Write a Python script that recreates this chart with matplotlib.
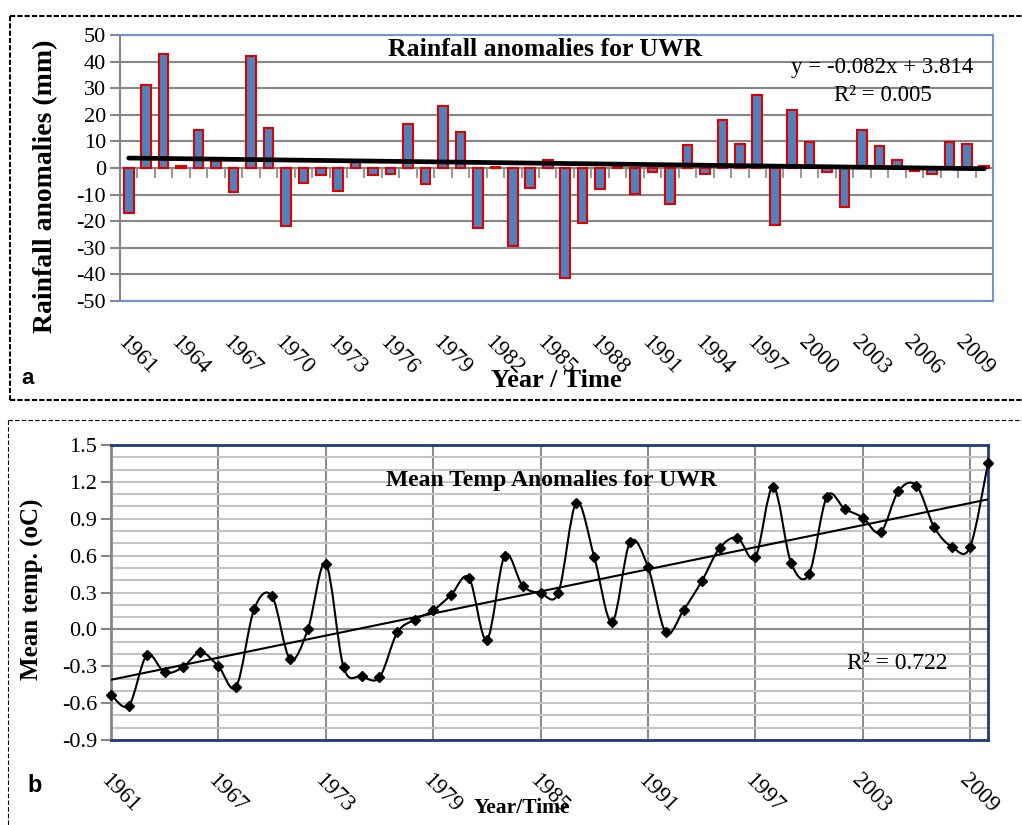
import numpy as np
import matplotlib
matplotlib.use('Agg')
from matplotlib import pyplot as plt
from matplotlib.path import Path
from matplotlib.patches import PathPatch
from matplotlib.lines import Line2D
from matplotlib.ticker import FormatStrFormatter

plt.rcParams['font.family'] = 'Liberation Serif'
plt.rcParams['axes.unicode_minus'] = False

years = list(range(1961, 2011))

# rainfall anomalies (mm), one bar per year
rain_anomaly = [-17.1, 31.2, 42.9, 0.6, 14.1, 2.5, -9.0, 42.1, 14.9, -21.9,
                -5.6, -2.6, -8.8, 2.5, -2.6, -2.2, 16.6, -5.9, 23.4, 13.4,
                -22.5, 0.5, -29.4, -7.5, 2.9, -41.2, -20.6, -7.9, 0.8, -9.8,
                -1.5, -13.4, 8.8, -2.1, 18.1, 9.0, 27.5, -21.4, 21.9, 9.6,
                -1.6, -14.8, 14.4, 8.4, 2.9, -1.2, -2.2, 9.9, 8.9, 0.6]
rain_slope = -0.082
rain_intercept = 3.814
rain_r2 = 0.005

# mean temperature anomalies (oC)
temp_anomaly = [-0.53, -0.62, -0.21, -0.35, -0.31, -0.185, -0.30, -0.465, 0.165, 0.27,
                -0.24, 0.0, 0.535, -0.31, -0.38, -0.39, -0.025, 0.08, 0.155, 0.28,
                0.42, -0.085, 0.60, 0.355, 0.295, 0.30, 1.03, 0.59, 0.06, 0.71,
                0.51, -0.025, 0.16, 0.39, 0.66, 0.745, 0.585, 1.16, 0.54, 0.45,
                1.08, 0.98, 0.91, 0.79, 1.125, 1.17, 0.83, 0.67, 0.67, 1.35]
temp_r2 = 0.722

rain_tick_years = years[::3]
temp_tick_years = years[::6]


def smooth_path(x, y):
    # excel style smoothed line (catmull-rom as cubic bezier)
    pts = np.column_stack([x, y]).astype(float)
    padded = np.vstack([pts[0], pts, pts[-1]])
    verts = [pts[0]]
    codes = [Path.MOVETO]
    for i in range(len(pts) - 1):
        p0, p1, p2, p3 = padded[i], padded[i + 1], padded[i + 2], padded[i + 3]
        verts += [p1 + (p2 - p0) / 6, p2 - (p3 - p1) / 6, p2]
        codes += [Path.CURVE4] * 3
    return Path(verts, codes)


fig = plt.figure(figsize=(10.22, 8.25), dpi=100)

# ---------------- panel a : rainfall ----------------
ax1 = fig.add_axes([0.1174, 0.6352, 0.8542, 0.3224])
pos = np.arange(1, len(years) + 1)
ax1.bar(pos, rain_anomaly, width=0.55, color='#4F81BD', edgecolor='#E00000',
        linewidth=1.5, zorder=3)
ax1.plot(pos, rain_slope * pos + rain_intercept, color='black', lw=3.4,
         solid_capstyle='round', zorder=4)
ax1.set_xlim(0.5, len(years) + 0.5)
ax1.set_ylim(-50, 50)
ax1.set_yticks(range(-50, 51, 10))
ax1.yaxis.grid(True, color='#868686', lw=1.5)
ax1.set_axisbelow(True)
ax1.tick_params(axis='y', length=7, width=1.5, color='#868686', labelsize=16, pad=3)
ax1.set_xticks([years.index(y) + 1 for y in rain_tick_years])
ax1.set_xticklabels(rain_tick_years, rotation=-45, ha='left', va='top',
                    rotation_mode='anchor', fontsize=16.5)
ax1.tick_params(axis='x', length=0, pad=22)
for side in ['top', 'right', 'bottom']:
    ax1.spines[side].set_color('#6F97CC')
    ax1.spines[side].set_linewidth(1.5)
ax1.spines['left'].set_color('#868686')
ax1.spines['left'].set_linewidth(1.5)

# category tick marks on the zero line
zero_axis = ax1.secondary_xaxis(0.5)
zero_axis.set_alignment('bottom')
zero_axis.set_xticks(np.arange(0.5, len(years) + 1, 1.0))
zero_axis.tick_params(axis='x', length=7, width=1.5, color='#9A9A9A', labelbottom=False)
zero_axis.spines['bottom'].set_color('#9A9A9A')
zero_axis.spines['bottom'].set_linewidth(1.5)

ax1.text(0.487, 0.944, 'Rainfall anomalies for UWR', transform=ax1.transAxes,
         ha='center', va='center', fontsize=18.5, fontweight='bold')
ax1.text(0.873, 0.876, f'y = {rain_slope:.3f}x + {rain_intercept:.3f}',
         transform=ax1.transAxes, ha='center', va='center', fontsize=16.5)
ax1.text(0.874, 0.774, f'R² = {rain_r2:.3f}', transform=ax1.transAxes,
         ha='center', va='center', fontsize=16.5)
ax1.set_ylabel('Rainfall anomalies (mm)', fontsize=20, fontweight='bold')
ax1.yaxis.set_label_coords(-0.085, 0.43)
ax1.yaxis.label.set_va('center')
ax1.set_xlabel('Year / Time', fontsize=19, fontweight='bold')
ax1.xaxis.set_label_coords(0.5, -0.30)
ax1.xaxis.label.set_va('center')

# ---------------- panel b : temperature ----------------
ax2 = fig.add_axes([0.1086, 0.1030, 0.8581, 0.3576])
ax2.set_xlim(years[0], years[-1])
ax2.set_ylim(-0.9, 1.5)
ax2.set_yticks(np.round(np.arange(-0.9, 1.51, 0.3), 1) + 0.0)
ax2.set_yticks(np.round(np.arange(-0.9, 1.51, 0.1), 1), minor=True)
ax2.yaxis.set_major_formatter(FormatStrFormatter('%.1f'))
ax2.yaxis.grid(True, which='both', color='#C4C4C4', lw=1.5)
ax2.set_xticks(temp_tick_years)
ax2.xaxis.grid(True, color='#8C8C8C', lw=1.5)
ax2.set_axisbelow(True)
ax2.axhline(0, color='#8C8C8C', lw=1.5, zorder=1)
ax2.tick_params(axis='y', which='major', length=7, width=1.5, color='#868686',
                labelsize=16, pad=3)
ax2.tick_params(axis='y', which='minor', length=0)
ax2.set_xticklabels(temp_tick_years, rotation=-45, ha='left', va='top',
                    rotation_mode='anchor', fontsize=16.5)
ax2.tick_params(axis='x', length=0, pad=21)
for side in ['top', 'right', 'bottom']:
    ax2.spines[side].set_color('#1F3A7A')
    ax2.spines[side].set_linewidth(2)
ax2.spines['left'].set_color('#868686')
ax2.spines['left'].set_linewidth(2)

ax2.add_patch(PathPatch(smooth_path(years, temp_anomaly), facecolor='none',
                        edgecolor='black', lw=1.5, zorder=3))
ax2.plot(years, temp_anomaly, 'D', color='black', ms=5, zorder=4, clip_on=False)
coef = np.polyfit(years, temp_anomaly, 1)
ax2.plot(years, np.polyval(coef, years), color='black', lw=1.5, zorder=3)

ax2.text(0.502, 0.881, 'Mean Temp Anomalies for UWR', transform=ax2.transAxes,
         ha='center', va='center', fontsize=17, fontweight='bold')
ax2.text(0.896, 0.261, f'R² = {temp_r2:.3f}', transform=ax2.transAxes,
         ha='center', va='center', fontsize=17)
ax2.set_ylabel('Mean temp. (oC)', fontsize=18, fontweight='bold')
ax2.yaxis.set_label_coords(-0.09, 0.51)
ax2.yaxis.label.set_va('center')
ax2.set_xlabel('Year/Time', fontsize=15.5, fontweight='bold')
ax2.xaxis.set_label_coords(0.469, -0.23)
ax2.xaxis.label.set_va('center')

# panel letters and dashed frames
fig.text(28 / 1022, 1 - 378 / 825, 'a', family='Liberation Sans', fontweight='bold',
         fontsize=16, ha='center', va='center')
fig.text(35 / 1022, 1 - 785 / 825, 'b', family='Liberation Sans', fontweight='bold',
         fontsize=17, ha='center', va='center')

W, H = 1022, 825
frame_a = dict(color='black', lw=1.5, linestyle=(0, (2.5, 1)))
frame_b = dict(color='black', lw=0.8, linestyle=(0, (4, 2)))
fig.add_artist(Line2D([10 / W, 1], [1 - 16 / H, 1 - 16 / H], **frame_a))
fig.add_artist(Line2D([10 / W, 10 / W], [1 - 16 / H, 1 - 400 / H], **frame_a))
fig.add_artist(Line2D([10 / W, 1], [1 - 400 / H, 1 - 400 / H], **frame_a))
fig.add_artist(Line2D([8 / W, 1], [1 - 420 / H, 1 - 420 / H], **frame_b))
fig.add_artist(Line2D([8 / W, 8 / W], [1 - 420 / H, 0], **frame_b))

fig.savefig('out.png', dpi=100)
